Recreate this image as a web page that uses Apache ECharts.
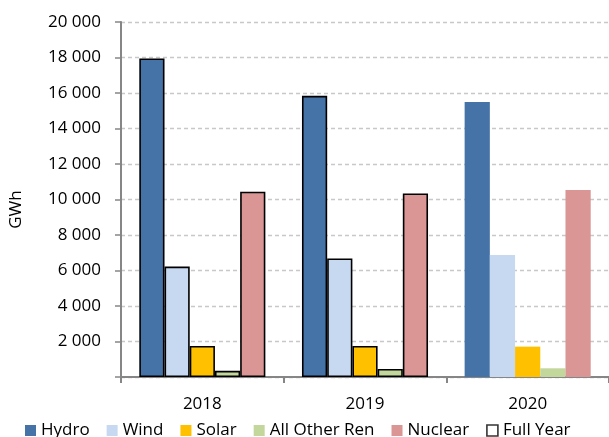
<!DOCTYPE html>
<html><head><meta charset="utf-8">
<script src="https://cdn.jsdelivr.net/npm/echarts@6/dist/echarts.min.js"></script>
<style>html,body{margin:0;padding:0;background:#fff}#c{width:609px;height:437px}</style>
</head><body><div id="c"></div>
<script>
const categories = ['2018', '2019', '2020'];
const hydro = [17950, 15840, 15500];
const wind = [6220, 6680, 6870];
const solar = [1750, 1750, 1710];
const otherRen = [350, 450, 490];
const nuclear = [10440, 10340, 10540];
const fullYear = [true, true, false];
const yTicks = [0, 2000, 4000, 6000, 8000, 10000, 12000, 14000, 16000, 18000, 20000];
const legendNames = ['Hydro', 'Wind', 'Solar', 'All Other Ren', 'Nuclear', 'Full Year'];

const FONT = '"Open Sans", sans-serif';
const legendTextW = [50, 44, 42, 112, 65, 70];
function fmt(v){ if(v===0) return ''; return String(v).replace(/\B(?=(\d{3})+(?!\d))/g,' '); }
function mk(name, vals, color){
  return {
    name, type:'bar', barGap:'0%', barCategoryGap:'22.5%',
    itemStyle:{color},
    data: vals.map((v,i)=>({value:v, itemStyle: fullYear[i] ? {borderColor:'#000', borderWidth:1.6} : {borderWidth:0}})),
    emphasis:{disabled:true}
  };
}
const chart = echarts.init(document.getElementById('c'), null, {renderer:'canvas'});
chart.setOption({
  animation:false,
  textStyle:{fontFamily:FONT},
  grid:{left:121, right:-1, top:22, bottom:60, containLabel:false},
  legend:{
    top:422, left:25, padding:0, itemWidth:11, itemHeight:11, itemGap:17, icon:'rect',
    textStyle:{fontFamily:FONT, fontSize:17, color:'#000'},
    data: legendNames.map((n,i)=>{
      const d = {name:n, textStyle:{width:legendTextW[i], overflow:'none'}};
      if (n==='Full Year') { d.itemStyle = {color:'#fff', borderColor:'#000', borderWidth:1.6}; }
      return d;
    })
  },
  xAxis:{
    type:'category', data:categories,
    axisLine:{lineStyle:{color:'#868686', width:2}},
    axisTick:{show:true, length:6, lineStyle:{color:'#868686', width:2}},
    axisLabel:{fontFamily:FONT, fontSize:17, color:'#000', margin:19}
  },
  yAxis:{
    type:'value', min:0, max:20000, interval:2000,
    name:'GWh', nameLocation:'middle', nameGap:96, nameRotate:90,
    nameTextStyle:{fontFamily:FONT, fontSize:17, color:'#000', padding:[0,0,0,-20]},
    axisLine:{show:true, lineStyle:{color:'#868686', width:2}},
    axisTick:{show:true, length:6, lineStyle:{color:'#868686', width:1.5}},
    axisLabel:{fontFamily:FONT, fontSize:17, color:'#000', margin:20, formatter:fmt,
      customValues: yTicks},
    splitLine:{lineStyle:{color:'#c8c8c8', type:[4,3], width:1.3}}
  },
  series:[
    mk('Hydro', hydro, '#4572A7'),
    mk('Wind', wind, '#C6D9F0'),
    mk('Solar', solar, '#FFC000'),
    mk('All Other Ren', otherRen, '#C3D69B'),
    mk('Nuclear', nuclear, '#D99694'),
    {name:'Full Year', type:'scatter', data:[], itemStyle:{color:'#fff', borderColor:'#000', borderWidth:1.6}}
  ]
});
</script></body></html>
